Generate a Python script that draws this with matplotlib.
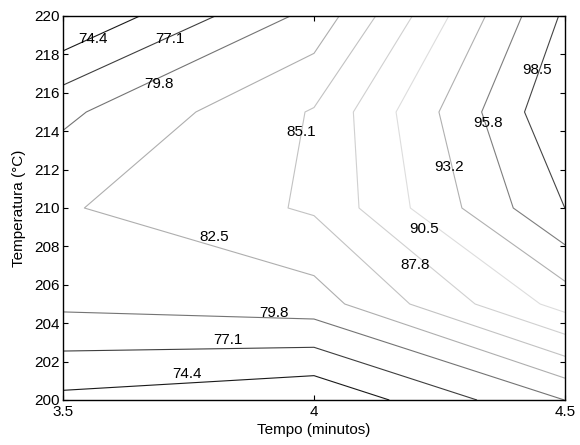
import numpy as np
import matplotlib
matplotlib.use("Agg")
import matplotlib.pyplot as plt

tempo = [3.5, 4.0, 4.5]                      # minutes
temperatura = [200, 205, 210, 215, 220]      # deg C
rendimento = [
    [73.77, 72.13, 79.80],
    [80.32, 81.20, 91.50],
    [82.18, 85.47, 98.52],
    [79.21, 85.35, 101.04],
    [71.70, 80.62, 98.98],
]
levels = [74.43, 77.11, 79.78, 82.46, 85.13, 87.81, 90.48, 93.16, 95.83, 98.51]

# label anchor points (layout)
label_pos = [
    (3.559, 218.8), (3.713, 218.8), (3.691, 216.46),
    (3.974, 213.94), (4.269, 212.12), (4.346, 214.41), (4.444, 217.19),
    (4.219, 208.9), (4.202, 207.03), (3.801, 208.51),
    (3.920, 204.55), (3.829, 203.1), (3.748, 201.34),
]

plt.rcParams['font.family'] = ['Liberation Sans', 'DejaVu Sans']
plt.rcParams['font.size'] = 11

fig = plt.figure(figsize=(5.8, 4.45), dpi=100)
ax = fig.add_axes([63 / 580, 1 - 400 / 445, 502 / 580, 384 / 445])

X, Y = np.meshgrid(tempo, temperatura)
Z = np.array(rendimento)

# greyscale version of the jet colour map
jet = plt.get_cmap('jet')
n = len(levels)
cols = []
for k in range(n):
    r, g, b, _ = jet((k + 1) / (n + 1))
    lum = 0.299 * r + 0.587 * g + 0.114 * b
    cols.append((lum, lum, lum))

cs = ax.contour(X, Y, Z, levels=levels, colors=cols, linewidths=0.8)
ax.clabel(cs, manual=label_pos, inline=False, fmt='%.1f',
          fontsize=11, colors='black')
for t, p in zip(cs.labelTexts, label_pos):
    t.set_rotation(0)
    t.set_position(p)
    t.set_ha('center')
    t.set_va('center')

ax.set_xlim(3.5, 4.5)
ax.set_ylim(200, 220)
ax.set_xticks([3.5, 4, 4.5])
ax.set_xticklabels(['3.5', '4', '4.5'])
ax.set_yticks(np.arange(200, 221, 2))
ax.tick_params(direction='in', length=3.6, width=0.8, top=True, right=True,
               labelsize=11)
ax.tick_params(axis='x', pad=3.5)
ax.tick_params(axis='y', pad=2.5)
for s in ax.spines.values():
    s.set_linewidth(1.0)

ax.set_xlabel('Tempo (minutos)')
ax.set_ylabel('Temperatura (°C)')
ax.xaxis.set_label_coords(0.5, -0.061)
ax.yaxis.set_label_coords(-0.074, 0.5)

fig.savefig('out.png', dpi=100)
